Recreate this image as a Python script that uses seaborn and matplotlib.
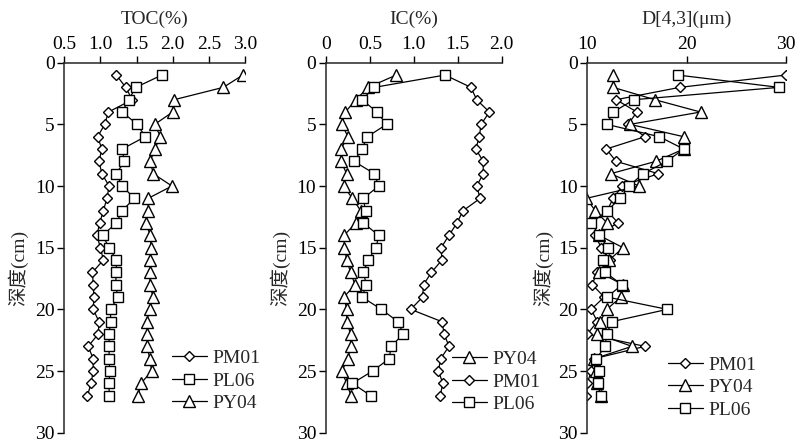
import numpy as np
import pandas as pd
import matplotlib
matplotlib.use("Agg")
import matplotlib.pyplot as plt
import seaborn as sns


# ////////////////////// DATA

depth = list(range(1, 28))

toc_pm01 = [1.22, 1.35, 1.44, 1.11, 1.06, 0.96, 1.02, 0.98, 1.02, 1.12,
            1.09, 1.04, 0.99, 0.95, 1.00, 1.04, 0.89, 0.90, 0.91, 0.90,
            0.98, 0.97, 0.83, 0.90, 0.90, 0.87, 0.82]
toc_pl06 = [1.85, 1.49, 1.39, 1.30, 1.51, 1.62, 1.30, 1.33, 1.22, 1.30,
            1.47, 1.30, 1.22, 1.03, 1.12, 1.22, 1.22, 1.21, 1.24, 1.14,
            1.14, 1.12, 1.12, 1.12, 1.13, 1.12, 1.12]
toc_py04 = [2.97, 2.70, 2.02, 2.00, 1.75, 1.83, 1.75, 1.69, 1.73, 1.99,
            1.66, 1.66, 1.63, 1.69, 1.70, 1.69, 1.69, 1.68, 1.73, 1.68,
            1.64, 1.65, 1.65, 1.68, 1.71, 1.56, 1.52]

ic_py04 = [0.80, 0.48, 0.34, 0.22, 0.18, 0.25, 0.17, 0.17, 0.235, 0.20,
           0.30, 0.395, 0.34, 0.205, 0.21, 0.235, 0.28, 0.33, 0.205, 0.235,
           0.235, 0.28, 0.28, 0.25, 0.18, 0.235, 0.285]
ic_pm01 = [1.355, 1.65, 1.715, 1.86, 1.765, 1.745, 1.705, 1.79, 1.79, 1.715,
           1.755, 1.56, 1.49, 1.40, 1.31, 1.32, 1.20, 1.11, 1.10, 0.965,
           1.32, 1.345, 1.40, 1.305, 1.28, 1.33, 1.30]
ic_pl06 = [1.355, 0.55, 0.41, 0.58, 0.69, 0.47, 0.41, 0.32, 0.55, 0.60,
           0.425, 0.45, 0.425, 0.60, 0.57, 0.48, 0.425, 0.46, 0.41, 0.63,
           0.82, 0.88, 0.74, 0.72, 0.53, 0.30, 0.51]

d_pm01 = [30.0, 19.3, 12.9, 15.0, 14.1, 15.8, 11.9, 12.9, 17.15, 13.5,
          12.6, 12.0, 13.1, 10.8, 11.4, 12.3, 10.95, 10.5, 11.7, 10.4,
          11.0, 10.0, 15.8, 10.7, 10.4, 10.0, 9.9]
d_py04 = [12.6, 12.6, 16.8, 21.4, 14.3, 19.7, 19.7, 16.9, 12.35, 15.2,
          9.9, 10.8, 12.0, 11.2, 13.6, 12.2, 11.2, 13.6, 13.4, 11.95,
          11.3, 11.0, 14.5, 10.7, 10.9, 11.0, 11.35]
d_pl06 = [19.1, 29.3, 14.7, 12.6, 11.95, 17.25, 19.7, 18.0, 15.6, 14.2,
          13.3, 12.0, 10.4, 11.2, 12.1, 11.6, 11.8, 13.5, 12.0, 18.05,
          12.45, 11.95, 11.8, 10.9, 11.2, 11.1, 11.35]

markers = {"PM01": "D", "PL06": "s", "PY04": "^"}
msizes = {"PM01": 5.5, "PL06": 6.5, "PY04": 8}

panels = [
    ("TOC(%)", {"PM01": toc_pm01, "PL06": toc_pl06, "PY04": toc_py04},
     (0.5, 3.0), [0.5, 1.0, 1.5, 2.0, 2.5, 3.0], ["0.5", "1.0", "1.5", "2.0", "2.5", "3.0"],
     (64.3, 245.0), (0.596, 0.225), -0.201),
    ("IC(%)", {"PY04": ic_py04, "PM01": ic_pm01, "PL06": ic_pl06},
     (0.0, 2.0), [0, 0.5, 1.0, 1.5, 2.0], ["0", "0.5", "1.0", "1.5", "2.0"],
     (326.0, 501.7), (0.717, 0.222), -0.205),
    ("D[4,3](μm)", {"PM01": d_pm01, "PY04": d_py04, "PL06": d_pl06},
     (10, 30), [10, 20, 30], ["10", "20", "30"],
     (587.3, 786.0), (0.406, 0.207), -0.173),
]


# ////////////////////// STYLE

sns.set_style("ticks")
plt.rcParams["font.family"] = ["Liberation Serif", "Noto Sans CJK SC", "DejaVu Sans"]
plt.rcParams["font.size"] = 14
plt.rcParams["axes.linewidth"] = 1.1

W, H = 797, 445
fig = plt.figure(figsize=(W / 100, H / 100), dpi=100)

top_px, bot_px = 62.7, 432.7

for title, series, xlim, xticks, xticklabels, (l_px, r_px), leg_pos, ylab_x in panels:
    ax = fig.add_axes([l_px / W, 1 - bot_px / H, (r_px - l_px) / W, (bot_px - top_px) / H])

    for name, vals in series.items():
        df = pd.DataFrame({"val": vals, "depth": depth})
        sns.lineplot(data=df, x="val", y="depth", orient="y", sort=False, ax=ax,
                     color="black", linewidth=0.9, marker=markers[name],
                     markersize=msizes[name], markerfacecolor="white",
                     markeredgecolor="black", markeredgewidth=1.0, label=name)

    ax.set_xlim(*xlim)
    ax.set_ylim(30, 0)
    ax.set_xticks(xticks)
    ax.set_xticklabels(xticklabels)
    ax.set_yticks([0, 5, 10, 15, 20, 25, 30])

    ax.xaxis.tick_top()
    ax.xaxis.set_label_position("top")
    ax.set_xlabel(title, labelpad=9)
    ax.set_ylabel("深度(cm)")
    ax.yaxis.set_label_coords(ylab_x, 0.445)

    for s in ["right", "bottom"]:
        ax.spines[s].set_visible(False)
    ax.tick_params(axis="both", direction="out", length=5, width=1.0,
                   labelsize=14, colors="black", pad=2)

    ax.legend(loc="upper left", bbox_to_anchor=leg_pos, frameon=False,
              borderpad=0, borderaxespad=0, handlelength=1.8,
              handletextpad=0.3, labelspacing=0.25, numpoints=1, fontsize=14)

plt.savefig("out.png", dpi=100)
